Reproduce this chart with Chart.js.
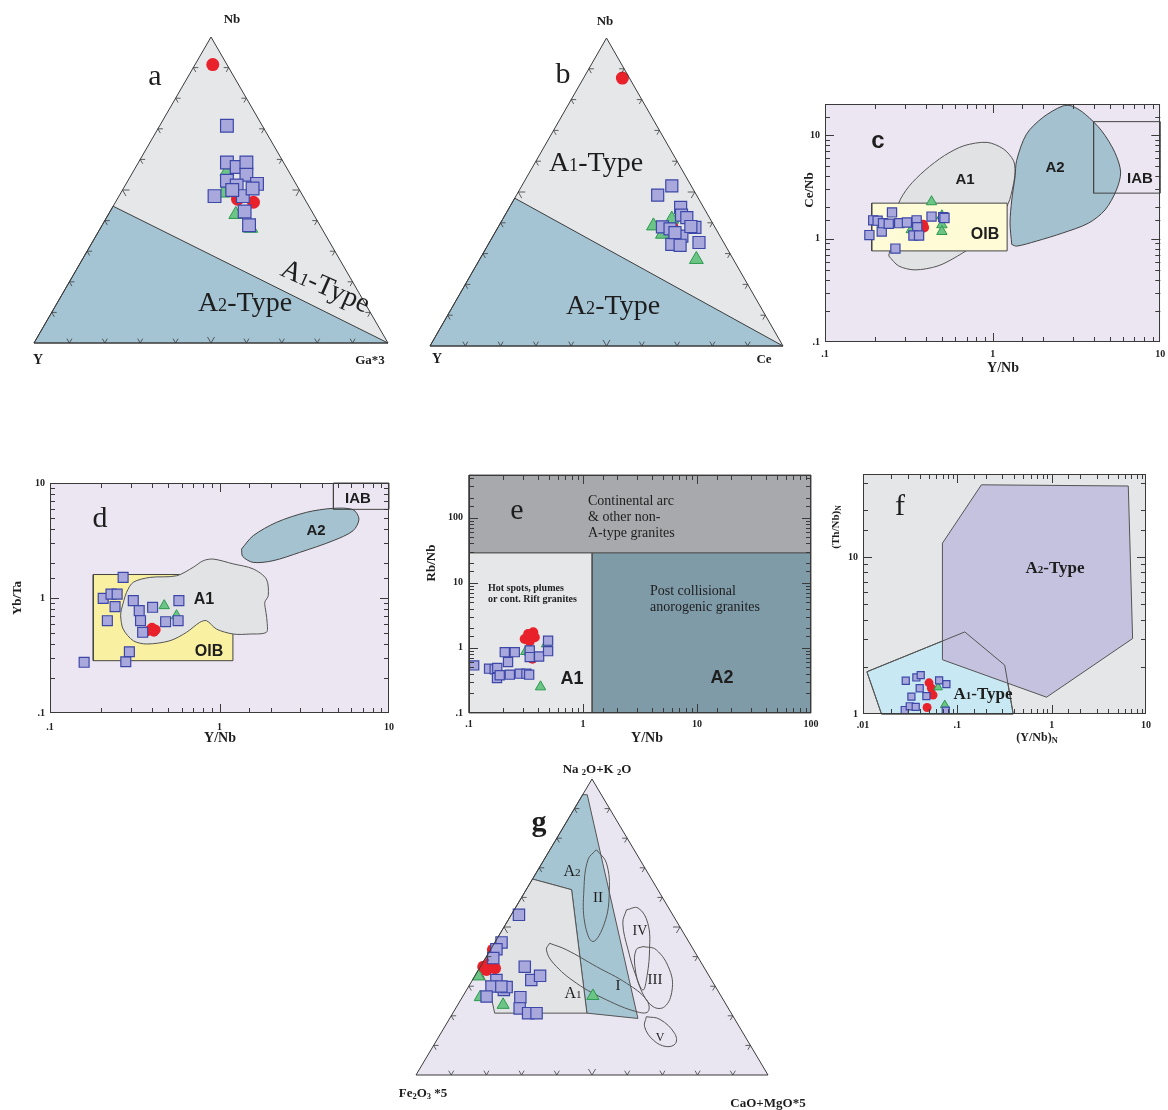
<!DOCTYPE html>
<html>
<head>
<meta charset="utf-8">
<script src="https://cdn.jsdelivr.net/npm/chart.js@4.4.1/dist/chart.umd.min.js"></script>
<style>
  body { margin: 0; background: #fff; width: 1168px; height: 1110px; position: relative; overflow: hidden; }
  canvas { position: absolute; }
</style>
</head>
<body>
<canvas id="ca" width="400" height="380" style="left:0;top:0"></canvas>
<canvas id="cb" width="400" height="380" style="left:400px;top:0"></canvas>
<canvas id="cc" width="378" height="300" style="left:790px;top:90px"></canvas>
<canvas id="cd" width="400" height="280" style="left:0;top:470px"></canvas>
<canvas id="ce" width="400" height="290" style="left:420px;top:460px"></canvas>
<canvas id="cf" width="348" height="290" style="left:820px;top:460px"></canvas>
<canvas id="cg" width="450" height="360" style="left:380px;top:750px"></canvas>
<script>
// ---- panel a : Nb - Y - Ga*3 (percent, [Nb, Y, Ga*3]) ----
const aSquares = [[71,10,19],[59,16,25],[57.5,14,28.5],[59,10.5,30.5],[55,12.5,32.5],[53,19,28],[51.5,17,31.5],[52,11,37],[48,25,27],[48,17,35],[50.5,13,36.5],[43,19,38],[38.5,20,41.5],[50,19,31]];
const aTriangles = [[56,17.5,26.5],[49,22,29],[42,22,36],[37.5,20,42.5]];
const aCircles = [[91,4,5],[47,19,34],[46,15,39]];
const aFieldA2 = [[0,100,0],[44.7,55.3,0],[0,0,100]];

// ---- panel b : Nb - Y - Ce ----
const bSquares = [[49,11,40],[52,5.5,42.5],[45,6.5,48.5],[42.5,7.5,50],[38.7,14.8,46.5],[38,13,49],[41.7,6.4,51.9],[38.5,5.7,55.8],[33.6,7,59.4],[35.7,10.8,53.5],[33,15,52],[32.7,12.8,54.5],[38.8,6.7,54.5],[36.8,12.2,51]];
const bTriangles = [[39,17.2,43.8],[36.3,16,47.7],[41.2,10.9,47.9],[28.1,10.5,61.4]];
const bCircles = [[87,2,11],[39,12,49]];
const bFieldA2 = [[0,100,0],[48,52,0],[0,0,100]];

// whole ternary field
const TRI = [[100,0,0],[0,100,0],[0,0,100]];

// ---- panel c : Y/Nb vs Ce/Nb ----
const cSquares = [[0.184,1.08],[0.194,1.50],[0.206,1.49],[0.218,1.17],[0.222,1.41],[0.240,1.39],[0.251,1.79],[0.263,0.80],[0.277,1.41],[0.308,1.43],[0.352,1.50],[0.355,1.29],[0.337,1.07],[0.364,1.07],[0.432,1.63],[0.507,1.61],[0.516,1.58]];
const cTriangles = [[0.432,2.27],[0.327,1.22],[0.498,1.66],[0.498,1.36],[0.498,1.17]];
const cCircles = [[0.375,1.30],[0.385,1.36],[0.39,1.28]];
const cFieldA1 = [[0.240,0.678],[0.257,1.22],[0.275,2.19],[0.315,3.16],[0.394,4.56],[0.516,6.35],[0.676,7.91],[0.927,8.51],[1.16,7.35],[1.33,5.69],[1.36,4.40],[1.32,3.16],[1.24,2.19],[1.06,1.41],[0.81,0.91],[0.618,0.678],[0.472,0.544],[0.344,0.498],[0.275,0.544]];
const cFieldA2 = [[1.30,0.877],[1.27,1.41],[1.30,2.36],[1.36,3.94],[1.39,5.69],[1.59,10.2],[1.99,14.8],[2.61,19.1],[2.98,19.1],[3.57,15.9],[4.47,11.0],[5.35,6.83],[5.80,4.40],[5.47,2.94],[4.68,1.89],[3.73,1.41],[2.61,1.13],[1.82,0.944],[1.39,0.845]];
const cFieldOIB = [[0.19,0.76],[1.22,0.76],[1.22,2.2],[0.19,2.2]];
const cFieldIAB = [[4,2.75],[10,2.75],[10,13.5],[4,13.5]];

// ---- panel d : Y/Nb vs Yb/Ta ----
const dSquares = [[0.159,0.276],[0.206,0.993],[0.218,0.635],[0.229,1.08],[0.249,1.08],[0.242,0.841],[0.270,1.51],[0.280,0.279],[0.294,0.341],[0.310,0.948],[0.336,0.776],[0.342,0.635],[0.352,0.503],[0.403,0.830],[0.481,0.622],[0.576,0.948],[0.570,0.635]];
const dTriangles = [[0.472,0.858],[0.558,0.702]];
const dCircles = [[0.37,0.51],[0.39,0.53],[0.40,0.55],[0.42,0.53],[0.41,0.51]];
const dFieldA1 = [[0.264,0.80],[0.283,1.12],[0.310,1.37],[0.388,1.51],[0.558,1.56],[0.700,1.85],[0.802,2.11],[0.918,2.18],[1.205,1.98],[1.58,1.79],[1.89,1.46],[1.94,1.05],[1.85,0.917],[1.88,0.75],[1.91,0.614],[1.89,0.503],[1.51,0.486],[1.205,0.486],[0.96,0.537],[0.838,0.635],[0.765,0.614],[0.639,0.503],[0.510,0.425],[0.372,0.398],[0.310,0.425],[0.270,0.537],[0.261,0.70]];
const dFieldA2 = [[1.35,2.67],[1.58,3.48],[2.17,4.55],[3.26,5.56],[4.68,6.02],[6.14,5.86],[6.65,4.86],[6.14,3.85],[4.68,3.15],[2.97,2.49],[2.07,2.11],[1.58,2.04],[1.37,2.30]];
const dFieldOIB = [[0.18,0.285],[1.2,0.285],[1.2,1.6],[0.18,1.6]];
const dFieldIAB = [[4.7,5.9],[10,5.9],[10,10],[4.7,10]];

// ---- panel e : Y/Nb vs Rb/Nb ----
const eSquares = [[0.111,0.538],[0.150,0.479],[0.168,0.468],[0.177,0.490],[0.176,0.345],[0.186,0.379],[0.206,0.859],[0.220,0.605],[0.252,0.859],[0.228,0.388],[0.279,0.402],[0.319,0.402],[0.337,0.388],[0.341,0.910],[0.341,0.721],[0.412,0.738],[0.494,0.890],[0.494,1.29]];
const eTriangles = [[0.315,0.879],[0.479,1.15],[0.424,0.252]];
const eCircles = [[0.308,1.37],[0.330,1.63],[0.366,1.73],[0.378,1.45],[0.341,1.25],[0.360,0.680],[0.35,1.55]];
const eFieldArc = [[0.1,28.6],[100,28.6],[100,450],[0.1,450]];
const eFieldA1 = [[0.1,0.1],[1.205,0.1],[1.205,28.6],[0.1,28.6]];
const eFieldA2 = [[1.205,0.1],[100,0.1],[100,28.6],[1.205,28.6]];

// ---- panel f : (Y/Nb)N vs (Th/Nb)N ----
const fSquares = [[0.0284,1.63],[0.0277,1.06],[0.0313,1.12],[0.0326,1.29],[0.0368,1.71],[0.0399,1.46],[0.0409,1.77],[0.0362,1.11],[0.0470,1.30],[0.0641,1.64],[0.0766,1.55],[0.0754,1.05]];
const fTriangles = [[0.0625,1.48],[0.0736,1.14]];
const fCircles = [[0.0501,1.58],[0.0531,1.46],[0.0553,1.32],[0.0478,1.10]];
const fFieldA2 = [[0.180,29.0],[6.49,28.5],[7.21,3.03],[0.883,1.28],[0.0695,2.22],[0.0695,12.3]];
const fFieldA1 = [[0.0110,1.86],[0.120,3.34],[0.318,2.05],[0.391,1],[0.0157,1]];

// ---- panel g : Na2O+K2O - Fe2O3*5 - CaO+MgO*5 ----
const gSquares = [[54.1,43.7,2.2],[44.8,53.3,1.9],[42.5,55.9,1.6],[39.5,58.3,2.2],[36.6,50.8,12.6],[32.1,51.2,16.7],[33.5,48.0,18.5],[32.1,61.1,6.8],[29.9,63.6,6.5],[28.7,60.7,10.6],[29.7,59.4,10.9],[26.5,66.7,6.8],[26.3,57.2,16.5],[22.5,59.3,18.2],[20.9,57.7,21.4],[20.9,55.3,23.8],[29.9,60.8,9.3]];
const gTriangles = [[33.3,65.6,1.1],[23.7,63.4,12.9],[26.7,36.4,36.9],[26.3,68.6,5.1]];
const gCircles = [[42.3,57,0.7],[37.8,60.1,2.1],[36.1,59.5,4.4],[35.5,62.2,2.3],[36.6,62.6,0.8]];
const gFieldA2 = [[94.7,5.3,0],[94.7,4.0,1.3],[19.1,27.4,53.5],[20.9,41,38.1],[62.6,24.5,12.9],[66.2,33.8,0]];
const gFieldA1 = [[66.2,33.8,0],[62.6,24.5,12.9],[20.9,41,38.1],[20.9,67.2,11.9],[28.7,64.7,6.6],[36.1,63.9,0]];
const gFieldI = [[44.5,39.8,15.7],[42.3,36.1,21.6],[36.6,30.4,33],[31,24.7,44.3],[25.4,21.8,52.8],[21.4,23.4,55.2],[21.4,26.7,51.9],[25.4,33.2,41.4],[31,38.9,30.1],[37.8,42.1,20.1],[42.3,41.8,15.9]];
const gFieldII = [[76.1,10.7,13.2],[71.6,10.1,18.3],[61.4,14.4,24.2],[51.3,20.8,27.9],[45.1,27.2,27.7],[51.3,26.4,22.3],[62.6,21,16.4],[72.7,14.8,12.5]];
const gFieldIII = [[43.4,13.8,42.8],[42.3,10.6,47.1],[35.5,10.2,54.3],[28.7,12.9,58.4],[23.1,17.8,59.1],[23.1,21.1,55.8],[28.7,21.7,49.6],[36.6,19.5,43.9],[42.3,16.3,41.4]];
const gFieldIV = [[55.8,12.3,31.9],[56.4,8.7,34.9],[51.3,8.5,40.2],[42.3,12.5,45.2],[32.1,18.5,49.4],[28.7,21.2,50.1],[33.3,20.8,45.9],[42.3,18.6,39.1],[51.3,15.6,33.1]];
const gFieldV = [[19.7,24.7,55.6],[18.8,21.3,59.9],[14.1,19.5,66.4],[10.7,20.9,68.4],[9.6,24.1,66.3],[11.8,26.7,61.5],[16.3,26.9,56.8]];

// ---------------------------------------------------------------
const H = Math.sqrt(3) / 2;
const tern = p => { const s = p[0] + p[1] + p[2]; return { x: (p[2] + p[0] / 2) / s, y: p[0] / s * H }; };
const xy = p => ({ x: p[0], y: p[1] });
const SERIF = "'Liberation Serif','Times New Roman',serif";
const SANS = "'Liberation Sans',Arial,sans-serif";

const decade = v => { const l = Math.log10(v); return Math.abs(l - Math.round(l)) < 1e-6; };
const fmt = v => v < 1 ? String(+v.toPrecision(3)).replace(/^0/, '') : String(Math.round(v));

const STYLES = {
  sq: { pointStyle: 'rect', backgroundColor: '#a9a8dc', borderColor: '#3c47a8', borderWidth: 1.2, order: 1 },
  tr: { pointStyle: 'triangle', backgroundColor: '#6dc487', borderColor: '#2b9a4d', borderWidth: 1, order: 2 },
  ci: { pointStyle: 'circle', backgroundColor: '#e8212a', borderColor: '#e8212a', borderWidth: 0, order: 3 }
};

function marks(rows, conv, kind, r, clip) {
  return Object.assign({ type: 'scatter', data: rows.map(conv), pointRadius: r, pointHoverRadius: r,
    showLine: false, clip: clip === undefined ? false : clip }, STYLES[kind]);
}

function field(rows, conv, fill, stroke, order, tension) {
  const d = rows.map(conv);
  d.push(d[0]);
  return { type: 'line', data: d, fill: fill ? 'shape' : false,
    backgroundColor: fill || 'rgba(0,0,0,0)', borderColor: stroke || 'rgba(0,0,0,0)',
    borderWidth: stroke ? 1 : 0, pointRadius: 0, tension: tension || 0, order: order, clip: false };
}

function logAxis(min, max, size, pad, horizontal) {
  return {
    type: 'logarithmic', min: min, max: max,
    grid: { display: false, drawTicks: false }, border: { display: false },
    ticks: { autoSkip: false, maxRotation: 0, padding: pad, color: '#222',
      font: { family: SERIF, size: 10, weight: 'bold' },
      callback: v => decade(v) ? fmt(v) : '' },
    afterFit: s => {
      if (horizontal) s.height = size; else s.width = size;
      s.paddingLeft = s.paddingRight = s.paddingTop = s.paddingBottom = 0;
    }
  };
}

const ternScales = {
  x: { type: 'linear', min: 0, max: 1, display: false },
  y: { type: 'linear', min: 0, max: H, display: false }
};

const DECO = {};

function drawText(c, t) {
  const size = t.size || 12, fam = t.fam || SERIF, w = t.w || 'normal';
  const runs = t.runs || [[t.t, 1, 0]];
  const font = s => w + ' ' + (size * s).toFixed(1) + 'px ' + fam;
  c.save();
  c.translate(t.x, t.y);
  if (t.rot) c.rotate(t.rot * Math.PI / 180);
  c.fillStyle = t.color || '#1e1e1e';
  c.textAlign = 'left';
  c.textBaseline = 'alphabetic';
  let total = 0;
  runs.forEach(r => { c.font = font(r[1]); total += c.measureText(r[0]).width; });
  let x = t.align === 'left' ? 0 : -total / 2;
  runs.forEach(r => {
    c.font = font(r[1]);
    c.fillText(r[0], x, size * 0.35 + (r[2] || 0) * size);
    x += c.measureText(r[0]).width;
  });
  c.restore();
}

function logFrame(chart) {
  const c = chart.ctx, a = chart.chartArea, sx = chart.scales.x, sy = chart.scales.y;
  c.beginPath();
  sx.ticks.forEach(tk => {
    const v = tk.value;
    if (v <= sx.min * 1.0001 || v >= sx.max * 0.9999) return;
    const p = Math.round(sx.getPixelForValue(v)) + 0.5, L = decade(v) ? 9 : 5;
    c.moveTo(p, a.bottom); c.lineTo(p, a.bottom - L);
    c.moveTo(p, a.top); c.lineTo(p, a.top + L);
  });
  sy.ticks.forEach(tk => {
    const v = tk.value;
    if (v <= sy.min * 1.0001 || v >= sy.max * 0.9999) return;
    const p = Math.round(sy.getPixelForValue(v)) + 0.5, L = decade(v) ? 9 : 5;
    c.moveTo(a.left, p); c.lineTo(a.left + L, p);
    c.moveTo(a.right, p); c.lineTo(a.right - L, p);
  });
  c.stroke();
  c.strokeRect(Math.round(a.left) + 0.5, Math.round(a.top) + 0.5,
    Math.round(a.right - a.left) - 1, Math.round(a.bottom - a.top) - 1);
}

function ternFrame(chart) {
  const c = chart.ctx, sx = chart.scales.x, sy = chart.scales.y;
  const A = [sx.getPixelForValue(0.5), sy.getPixelForValue(H)];
  const B = [sx.getPixelForValue(0), sy.getPixelForValue(0)];
  const C = [sx.getPixelForValue(1), sy.getPixelForValue(0)];
  c.beginPath();
  c.moveTo(A[0], A[1]); c.lineTo(B[0], B[1]); c.lineTo(C[0], C[1]); c.closePath();
  c.stroke();
  const unit = (p, q) => { const dx = q[0] - p[0], dy = q[1] - p[1], l = Math.hypot(dx, dy); return [dx / l, dy / l]; };
  c.beginPath();
  [[B, C, A], [B, A, C], [C, A, B]].forEach(e => {
    const P = e[0], Q = e[1], R = e[2];
    const u1 = unit(P, R), u2 = unit(Q, R);
    for (let i = 1; i < 10; i++) {
      const x = P[0] + (Q[0] - P[0]) * i / 10, y = P[1] + (Q[1] - P[1]) * i / 10;
      const L = i === 5 ? 7 : 5;
      c.moveTo(x + u1[0] * L, y + u1[1] * L); c.lineTo(x, y); c.lineTo(x + u2[0] * L, y + u2[1] * L);
    }
  });
  c.lineWidth = 0.8;
  c.stroke();
}

Chart.register({
  id: 'deco',
  beforeDraw(chart) {
    const o = DECO[chart.canvas.id];
    if (!o || !o.bg) return;
    const a = chart.chartArea, c = chart.ctx;
    c.save(); c.fillStyle = o.bg; c.fillRect(a.left, a.top, a.right - a.left, a.bottom - a.top); c.restore();
  },
  afterDatasetsDraw(chart) {
    const o = DECO[chart.canvas.id];
    if (!o) return;
    const c = chart.ctx;
    c.save();
    c.strokeStyle = '#3a3a3a';
    c.lineWidth = 1;
    if (o.frame) logFrame(chart);
    if (o.tern) ternFrame(chart);
    (o.texts || []).forEach(t => drawText(c, t));
    c.restore();
  }
});

function make(id, datasets, scales, padding) {
  return new Chart(document.getElementById(id), {
    type: 'scatter',
    data: { datasets: datasets },
    options: {
      responsive: false, animation: false, events: [],
      layout: { padding: padding },
      scales: scales,
      plugins: { legend: { display: false }, tooltip: { enabled: false } }
    }
  });
}

const A1 = [['A', 1], ['1', 0.65], ['-Type', 1]];
const A2 = [['A', 1], ['2', 0.65], ['-Type', 1]];

// ---- a ----
DECO.ca = { tern: true, texts: [
  { t: 'Nb', x: 232, y: 18, size: 13, w: 'bold' },
  { t: 'Y', x: 38, y: 359, size: 14, w: 'bold' },
  { t: 'Ga*3', x: 370, y: 359, size: 13, w: 'bold' },
  { t: 'a', x: 155, y: 74, size: 30 },
  { runs: A2, x: 245, y: 301, size: 28 },
  { runs: A1, x: 326, y: 285, size: 28, rot: 24 }
] };
make('ca', [
  marks(aSquares, tern, 'sq', 9),
  marks(aTriangles, tern, 'tr', 8),
  marks(aCircles, tern, 'ci', 6.5),
  field(aFieldA2, tern, '#a4c4d4', '#3c3c3c', 11),
  field(TRI, tern, '#e6e7e9', null, 12)
], ternScales, { left: 34, right: 12, top: 37, bottom: 37 });

// ---- b ----
DECO.cb = { tern: true, texts: [
  { t: 'Nb', x: 205, y: 20, size: 13, w: 'bold' },
  { t: 'Y', x: 37, y: 358, size: 14, w: 'bold' },
  { t: 'Ce', x: 364, y: 358, size: 13, w: 'bold' },
  { t: 'b', x: 163, y: 72, size: 30 },
  { runs: A1, x: 196, y: 161, size: 28 },
  { runs: A2, x: 213, y: 304, size: 28 }
] };
make('cb', [
  marks(bSquares, tern, 'sq', 8.5),
  marks(bTriangles, tern, 'tr', 8),
  marks(bCircles, tern, 'ci', 6.5),
  field(bFieldA2, tern, '#a4c4d4', '#3c3c3c', 11),
  field(TRI, tern, '#e6e7e9', null, 12)
], ternScales, { left: 30, right: 17, top: 38, bottom: 34 });

// ---- c ----
DECO.cc = { frame: true, bg: '#ece6f2', texts: [
  { t: 'c', x: 88, y: 50, size: 24, fam: SANS, w: 'bold' },
  { t: 'A1', x: 175, y: 89, size: 15, fam: SANS, w: 'bold' },
  { t: 'A2', x: 265, y: 77, size: 15, fam: SANS, w: 'bold' },
  { t: 'IAB', x: 350, y: 88, size: 15, fam: SANS, w: 'bold' },
  { t: 'OIB', x: 195, y: 143, size: 16, fam: SANS, w: 'bold' },
  { t: 'Y/Nb', x: 213, y: 277, size: 14, w: 'bold' },
  { t: 'Ce/Nb', x: 18, y: 100, size: 13, w: 'bold', rot: -90 }
] };
make('cc', [
  marks(cSquares, xy, 'sq', 6.5),
  marks(cTriangles, xy, 'tr', 6),
  marks(cCircles, xy, 'ci', 5),
  field(cFieldIAB, xy, null, '#444', 10),
  field(cFieldOIB, xy, '#fefbd6', '#444', 11),
  field(cFieldA2, xy, '#a3c1cf', '#444', 12, 0.3),
  field(cFieldA1, xy, '#e1e2e4', '#555', 13, 0.3)
], { x: logAxis(0.1, 10, 48, 6, true), y: logAxis(0.1, 20, 35, 5, false) }, { left: 0, right: 1, top: 14, bottom: 0 });

// ---- d ----
DECO.cd = { frame: true, bg: '#ece6f2', texts: [
  { t: 'd', x: 100, y: 46, size: 30 },
  { t: 'IAB', x: 358, y: 28, size: 15, fam: SANS, w: 'bold' },
  { t: 'A2', x: 316, y: 60, size: 15, fam: SANS, w: 'bold' },
  { t: 'A1', x: 204, y: 128, size: 16, fam: SANS, w: 'bold' },
  { t: 'OIB', x: 209, y: 180, size: 16, fam: SANS, w: 'bold' },
  { t: 'Y/Nb', x: 220, y: 267, size: 14, w: 'bold' },
  { t: 'Yb/Ta', x: 16, y: 128, size: 13, w: 'bold', rot: -90 }
] };
make('cd', [
  marks(dSquares, xy, 'sq', 7),
  marks(dTriangles, xy, 'tr', 6),
  marks(dCircles, xy, 'ci', 5),
  field(dFieldIAB, xy, null, '#444', 10),
  field(dFieldA2, xy, '#a4c2d0', '#444', 11, 0.3),
  field(dFieldA1, xy, '#e2e3e5', '#555', 12, 0.3),
  field(dFieldOIB, xy, '#f9f0a2', '#444', 13)
], { x: logAxis(0.1, 10, 37, 8, true), y: logAxis(0.1, 10, 50, 5, false) }, { left: 0, right: 11, top: 13, bottom: 0 });

// ---- e ----
DECO.ce = { frame: true, texts: [
  { t: 'e', x: 97, y: 48, size: 30 },
  { t: 'Continental arc', x: 168, y: 40, size: 14, align: 'left' },
  { t: '& other non-', x: 168, y: 56, size: 14, align: 'left' },
  { t: 'A-type granites', x: 168, y: 72, size: 14, align: 'left' },
  { t: 'Hot spots, plumes', x: 68, y: 127, size: 10, w: 'bold', align: 'left' },
  { t: 'or cont. Rift granites', x: 68, y: 138, size: 10, w: 'bold', align: 'left' },
  { t: 'Post collisional', x: 230, y: 130, size: 14, align: 'left' },
  { t: 'anorogenic granites', x: 230, y: 146, size: 14, align: 'left' },
  { t: 'A1', x: 152, y: 218, size: 18, fam: SANS, w: 'bold' },
  { t: 'A2', x: 302, y: 217, size: 18, fam: SANS, w: 'bold' },
  { t: 'Y/Nb', x: 227, y: 277, size: 14, w: 'bold' },
  { t: 'Rb/Nb', x: 10, y: 103, size: 13, w: 'bold', rot: -90 }
] };
make('ce', [
  marks(eSquares, xy, 'sq', 6.5),
  marks(eTriangles, xy, 'tr', 6),
  marks(eCircles, xy, 'ci', 5),
  field(eFieldA2, xy, '#7f9ba8', '#555', 10),
  field(eFieldA1, xy, '#e6e7e9', '#555', 11),
  field(eFieldArc, xy, '#a7a9ac', '#555', 12)
], { x: logAxis(0.1, 100, 37, 5, true), y: logAxis(0.1, 450, 49, 6, false) }, { left: 0, right: 9, top: 15, bottom: 0 });

// ---- f ----
DECO.cf = { frame: true, bg: '#e5e6e8', texts: [
  { t: 'f', x: 80, y: 44, size: 30 },
  { runs: A2, x: 235, y: 107, size: 17, w: 'bold' },
  { runs: A1, x: 163, y: 233, size: 17, w: 'bold' },
  { runs: [['(Y/Nb)', 1], ['N', 0.7, 0.15]], x: 217, y: 277, size: 12, w: 'bold' },
  { runs: [['(Th/Nb)', 1], ['N', 0.7, 0.15]], x: 15, y: 67, size: 11, w: 'bold', rot: -90 }
] };
make('cf', [
  marks(fSquares, xy, 'sq', 5, 0),
  marks(fTriangles, xy, 'tr', 5, 0),
  marks(fCircles, xy, 'ci', 4.5, 0),
  field(fFieldA1, xy, null, '#555', 10),
  field(fFieldA2, xy, '#c5c2e0', '#555', 11),
  field(fFieldA1, xy, '#c8e9f3', '#555', 12)
], { x: logAxis(0.01, 10, 36, 5, true), y: logAxis(1, 34, 43, 5, false) }, { left: 0, right: 22, top: 14, bottom: 0 });

// ---- g ----
DECO.cg = { tern: true, texts: [
  { runs: [['Na ', 1], ['2', 0.65, 0.2], ['O+K ', 1], ['2', 0.65, 0.2], ['O', 1]], x: 217, y: 18, size: 13, w: 'bold' },
  { runs: [['Fe', 1], ['2', 0.65, 0.2], ['O', 1], ['3', 0.65, 0.2], [' *5', 1]], x: 43, y: 342, size: 13, w: 'bold' },
  { t: 'CaO+MgO*5', x: 388, y: 352, size: 13, w: 'bold' },
  { t: 'g', x: 159, y: 70, size: 30, w: 'bold' },
  { runs: [['A', 1], ['2', 0.7]], x: 192, y: 120, size: 16 },
  { t: 'II', x: 218, y: 147, size: 15 },
  { t: 'IV', x: 260, y: 180, size: 14 },
  { t: 'III', x: 275, y: 229, size: 15 },
  { runs: [['A', 1], ['1', 0.7]], x: 193, y: 242, size: 16 },
  { t: 'I', x: 238, y: 235, size: 15 },
  { t: 'V', x: 280, y: 287, size: 12 }
] };
make('cg', [
  marks(gSquares, tern, 'sq', 8),
  marks(gTriangles, tern, 'tr', 7),
  marks(gCircles, tern, 'ci', 6),
  field(gFieldI, tern, null, '#555', 8, 0.4),
  field(gFieldII, tern, null, '#555', 8, 0.4),
  field(gFieldIII, tern, null, '#555', 8, 0.4),
  field(gFieldIV, tern, null, '#555', 8, 0.4),
  field(gFieldV, tern, null, '#555', 8, 0.4),
  field(gFieldA1, tern, '#e2e3e5', '#555', 10),
  field(gFieldA2, tern, '#a5c5d3', '#555', 11),
  field(TRI, tern, '#e9e6f1', null, 12)
], ternScales, { left: 36, right: 62, top: 29, bottom: 35 });
</script>
</body>
</html>
